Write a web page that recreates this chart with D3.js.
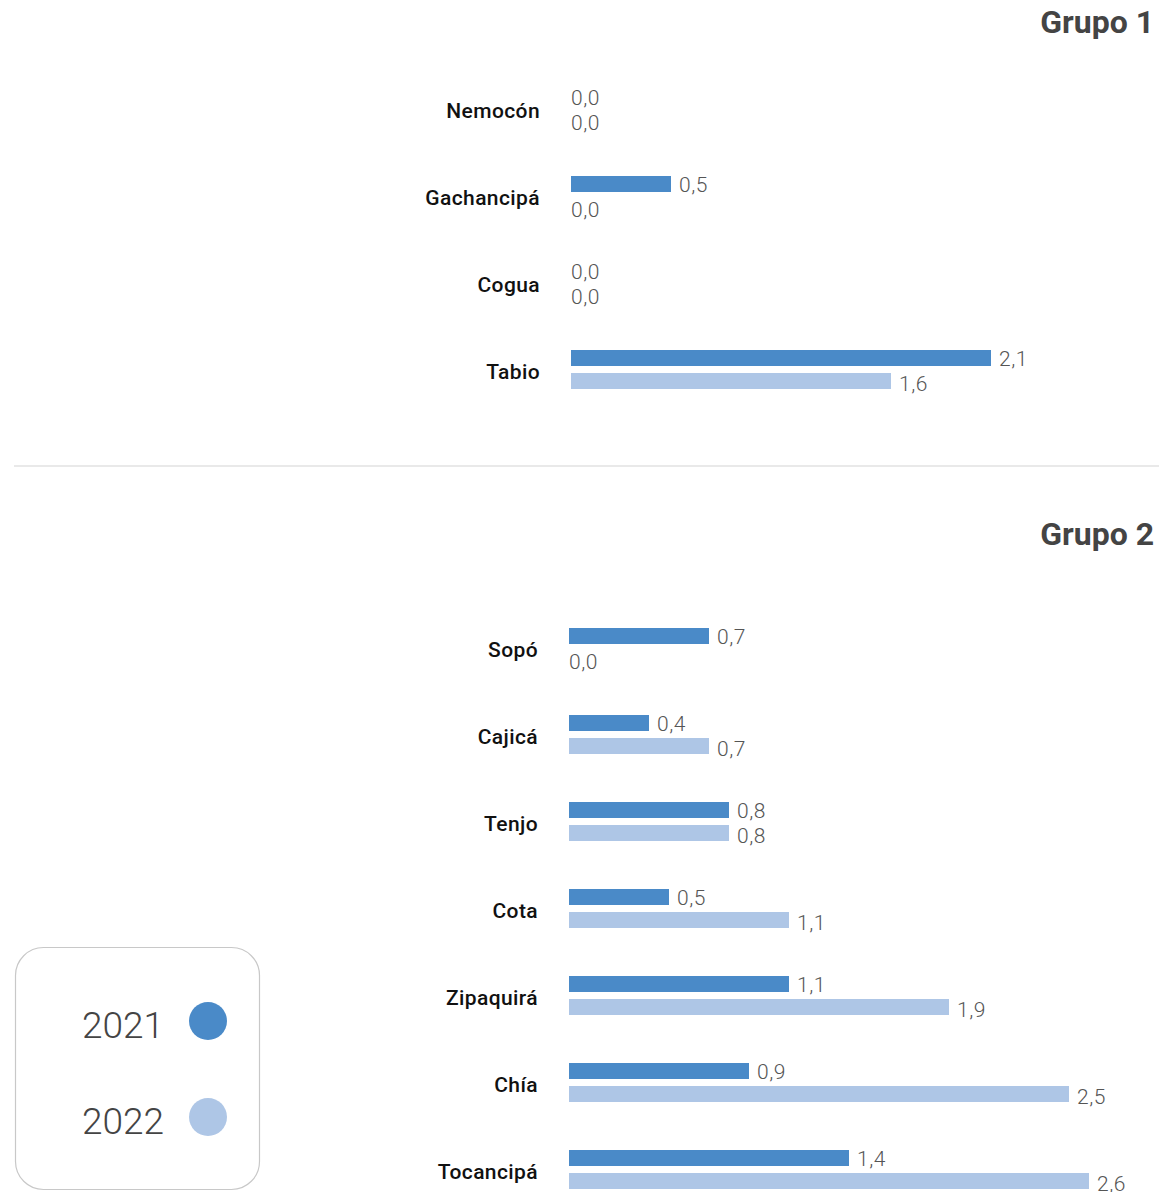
<!DOCTYPE html>
<html><head><meta charset="utf-8">
<script src="https://cdn.jsdelivr.net/npm/d3@7"></script>
<style>
html,body{margin:0;padding:0;background:#fff;}
svg{display:block;font-family:Roboto, "Noto Sans", sans-serif;}
</style></head>
<body>
<svg id="chart" width="1175" height="1192"></svg>
<script>
const series = ["2021", "2022"];
const seriesColors = ["#4a8ac8", "#aec6e6"];

const group1Title = "Grupo 1";
const group1Categories = ["Nemocón", "Gachancipá", "Cogua", "Tabio"];
const group1Values2021 = [0.0, 0.5, 0.0, 2.1];
const group1Values2022 = [0.0, 0.0, 0.0, 1.6];

const group2Title = "Grupo 2";
const group2Categories = ["Sopó", "Cajicá", "Tenjo", "Cota", "Zipaquirá", "Chía", "Tocancipá"];
const group2Values2021 = [0.7, 0.4, 0.8, 0.5, 1.1, 0.9, 1.4];
const group2Values2022 = [0.0, 0.7, 0.8, 1.1, 1.9, 2.5, 2.6];

const fmt = v => d3.format(".1f")(v).replace(".", ",");
const svg = d3.select("#chart");

function drawGroup(cfg) {
  const { title, categories, v2021, v2022, x0, top, titleY } = cfg;
  const step = 87;
  const y = d3.scaleBand().domain(categories).range([top, top + step * categories.length]).padding(0);
  const y1 = d3.scaleBand().domain(series).range([0, 39]).paddingInner(7 / 23).paddingOuter(0);
  const x = d3.scaleLinear().domain([0, 2.6]).range([x0, x0 + 520]);
  const color = d3.scaleOrdinal().domain(series).range(seriesColors);

  const g = svg.append("g");
  g.append("text").attr("x", 1154).attr("y", titleY)
    .attr("text-anchor", "end").attr("font-size", 32).attr("font-weight", 700)
    .attr("fill", "#444").text(title);

  const rows = categories.map((c, i) => ({ cat: c, vals: [v2021[i], v2022[i]] }));
  const row = g.selectAll("g.row").data(rows).join("g").attr("class", "row")
    .attr("transform", d => `translate(0,${y(d.cat)})`);

  row.append("text").attr("x", x0 - 31).attr("y", 22)
    .attr("dy", "0.35em").attr("text-anchor", "end")
    .attr("font-size", 21).attr("font-weight", 500).attr("fill", "#111")
    .attr("letter-spacing", 0.4)
    .text(d => d.cat);

  const cell = row.selectAll("g.bar").data(d => d.vals.map((v, k) => ({ s: series[k], v })))
    .join("g").attr("class", "bar");
  cell.append("rect")
    .attr("x", x(0)).attr("y", d => y1(d.s))
    .attr("width", d => x(d.v) - x(0)).attr("height", y1.bandwidth())
    .attr("fill", d => color(d.s));
  cell.append("text")
    .attr("x", d => x(d.v) + (d.v > 0 ? 8 : 0))
    .attr("y", d => y1(d.s) + y1.bandwidth() + (d.s === "2022" ? 2 : 0))
    .attr("font-size", 21).attr("font-weight", 300).attr("fill", "#555")
    .attr("letter-spacing", 0.5)
    .text(d => fmt(d.v));
}

drawGroup({ title: group1Title, categories: group1Categories, v2021: group1Values2021, v2022: group1Values2022, x0: 571, top: 89, titleY: 33 });

svg.append("line").attr("x1", 14).attr("x2", 1159).attr("y1", 466).attr("y2", 466)
  .attr("stroke", "#d3d3d3").attr("stroke-width", 1.2);

drawGroup({ title: group2Title, categories: group2Categories, v2021: group2Values2021, v2022: group2Values2022, x0: 569, top: 628, titleY: 545 });

// Legend
const lg = svg.append("g");
lg.append("rect").attr("x", 15.5).attr("y", 947.5).attr("width", 244).attr("height", 242)
  .attr("rx", 28).attr("fill", "#fff").attr("stroke", "#c8c8c8").attr("stroke-width", 1.2);
series.forEach((s, i) => {
  const cy = 1021 + i * 96;
  lg.append("text").attr("x", 164).attr("y", cy + 17).attr("text-anchor", "end")
    .attr("font-size", 37).attr("font-weight", 300).attr("fill", "#444").text(s);
  lg.append("circle").attr("cx", 208).attr("cy", cy).attr("r", 19).attr("fill", seriesColors[i]);
});
</script>
</body></html>
